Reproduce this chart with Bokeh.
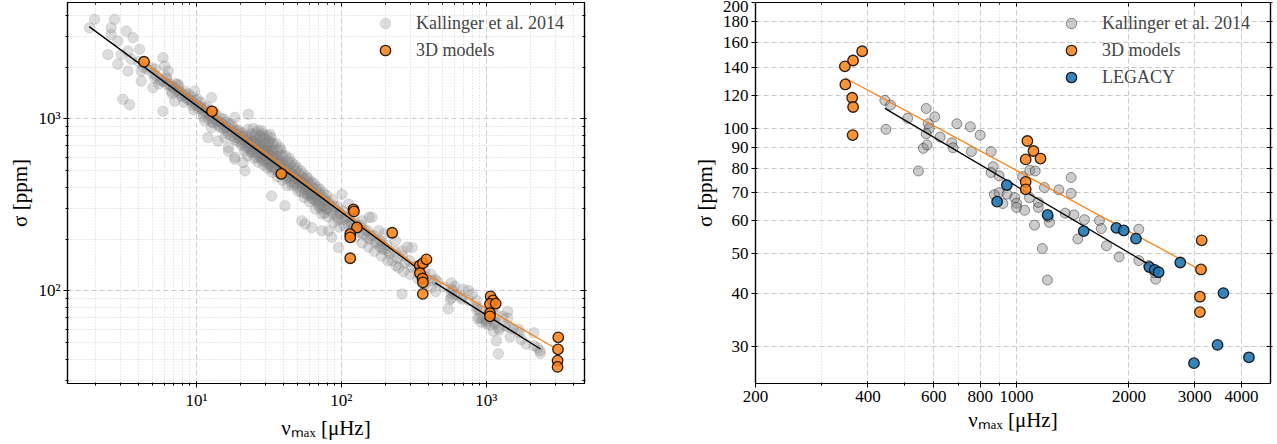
from bokeh.plotting import figure
from bokeh.models import FixedTicker, LogAxis, Legend, LegendItem
from bokeh.layouts import row
from bokeh.embed import file_html
from bokeh.resources import INLINE

FONT = "Liberation Serif"

# ---------------- data ----------------
# Kallinger et al. 2014, red-giant part (nu_max < ~440 muHz)
kall_rg_nu = [
    1.98, 2.72, 1.83, 2.58, 3.28, 3.65, 2.58, 2.87, 2.45, 3.03,
    3.37, 4.05, 3.55, 2.87, 3.37, 4.16, 4.88, 5.88, 6.04, 5.15,
    4.16, 5.01, 5.73, 6.37, 3.11, 3.46, 5.88, 6.71, 7.46, 7.08,
    8.30, 9.23, 9.74, 10.8, 12.7, 11.4, 12.7, 12.0, 14.1, 15.7,
    16.6, 18.4, 19.4, 18.4,
    4.0, 4.3, 4.6, 5.0, 5.3, 5.6, 6.0, 6.3, 6.6, 7.0,
    7.3, 7.7, 8.0, 8.5, 9.0, 9.5, 10.0, 10.5, 11.0, 11.5,
    12.0, 12.5, 13.0, 13.5, 14.0, 14.5, 15.0, 16.0, 17.0, 18.0,
    19.0, 20.0, 5.2, 6.2, 7.5, 8.8, 10.2, 11.8, 13.2, 15.5,
    17.5, 19.5, 5.5, 6.8, 8.2, 9.6, 11.2, 12.8, 14.6, 16.5,
    18.5, 20.5,
    20.8, 21.3, 20.6, 21.5, 22.7, 23.4, 22.9, 23.6, 22.5,
    24.6, 25.3, 24.8, 25.6, 24.4, 25.1, 26.7, 27.4, 26.5, 27.2, 27.7, 26.8,
    28.6, 29.3, 28.8, 29.6, 28.4, 29.1, 30.7, 31.5, 30.5, 31.2, 31.7, 30.8,
    32.6, 33.4, 32.8, 33.7, 32.4, 33.2, 35.5, 36.4, 35.8, 36.8, 35.3, 36.2,
    38.4, 39.5, 38.8, 39.8, 38.2, 39.2, 41.3, 42.6, 41.7, 43.0, 41.5, 42.3,
    45.2, 46.6, 45.6, 47.0, 45.9, 49.3, 50.8, 49.7, 51.2, 50.2,
    54.2, 55.8, 54.6, 56.2, 55.2, 59.0, 60.8, 59.5, 61.2, 60.2,
    65.0, 66.8, 65.5, 67.2, 66.2, 71.0, 73.0, 71.5, 72.6,
    79.0, 81.0, 79.5, 80.8, 86.8, 89.0, 87.4, 88.6, 94.5, 97.2, 95.3, 96.8,
    103, 106.5, 104.5, 113, 116.5, 114.5, 123, 127, 124.5, 137, 142, 139,
    152, 157, 154, 167, 172, 169, 186, 193, 189, 206, 214, 209,
    235, 244, 238, 265, 274, 268, 295, 305, 298, 333, 345, 337,
    373, 386, 377, 414, 425, 418,
    22.1, 21.8, 22.3, 24.0, 23.8, 24.2, 23.9, 26.0, 25.8, 26.2, 25.9, 26.1,
    28.0, 27.8, 28.2, 27.9, 28.1, 30.0, 29.8, 30.2, 29.9, 30.1,
    32.0, 31.8, 32.2, 31.9, 32.1, 34.0, 33.8, 34.3, 34.1, 33.9,
    37.6, 38.0, 37.8, 38.3, 37.5, 43.7, 44.3, 44.0, 43.5,
    47.7, 48.3, 48.0, 47.5, 52.6, 53.3, 52.9, 53.5,
    57.5, 58.4, 57.8, 58.6, 62.5, 63.5, 62.8, 63.7,
    68.4, 69.6, 68.8, 69.9, 75.3, 76.7, 75.8, 76.4,
    16.6, 18.4, 21.0, 21.6, 15.7, 33.0, 40.8, 53.3, 62.5, 73.3,
    85.9, 95.5, 22.8, 28.2, 32.2, 56.2, 73.3, 81.5, 100.8, 112,
    138.6, 162.5, 180.8, 190.6, 212, 235.8, 262.2, 307.5, 248.6, 223.6,
    262, 342, 155, 198, 285,
    6.2, 6.5, 6.9, 7.2, 7.6, 7.9, 8.3, 8.7, 9.2, 9.4,
    9.9, 10.3, 10.7, 11.1, 11.6, 12.2, 12.6, 13.1, 13.6, 14.2,
    14.8, 15.3, 15.8, 16.3, 16.8, 17.3, 17.8, 18.3, 18.8, 19.3,
    19.8, 20.3, 21.1, 21.9, 22.6, 23.2, 24.1, 24.7, 25.4, 26.3,
    27.0, 27.6, 28.3, 29.0, 29.7, 30.4, 31.0, 31.8, 32.5, 33.3,
    34.2, 35.0, 35.9, 36.7, 37.4, 38.6, 39.6, 40.5, 41.5, 42.8,
    44.0, 45.0, 46.2, 47.3, 48.6, 49.8, 51.5, 52.5, 54.0, 55.5,
    57.0, 58.8, 60.5, 62.0, 64.0, 65.8, 68.0, 70.0, 72.0, 74.5,
    77.5, 80.0, 83.0, 86.0, 90.0, 93.0, 98.0, 102, 108, 112,
    118, 122, 130, 135, 145, 150, 160, 175, 185, 200,
]
kall_rg_sig = [
    3790, 3790, 3390, 3390, 3240, 2970, 3100, 2840, 2370, 2370,
    2480, 2540, 2220, 2080, 1900, 1900, 1990, 2270, 2030, 1740,
    1660, 1520, 1660, 1900, 1300, 1210, 1110, 1450, 1590, 1270,
    1390, 1270, 1450, 1160, 1330, 975, 890, 780, 745, 890,
    650, 600, 780, 1020,
    2150, 2000, 1950, 1850, 1780, 1700, 1650, 1580, 1560, 1500,
    1450, 1420, 1380, 1330, 1290, 1240, 1200, 1180, 1130, 1100,
    1070, 1040, 1020, 990, 970, 960, 940, 900, 870, 840,
    810, 790, 1950, 1760, 1560, 1400, 1300, 1180, 1100, 1000,
    930, 860, 1600, 1400, 1250, 1130, 1030, 960, 890, 820,
    760, 720,
    830, 760, 700, 650, 870, 780, 720, 660, 610,
    880, 800, 740, 690, 640, 590, 860, 790, 720, 670, 620, 560,
    820, 760, 700, 650, 600, 540, 800, 730, 680, 620, 570, 520,
    780, 710, 650, 600, 550, 490, 720, 660, 610, 560, 510, 460,
    660, 610, 560, 520, 480, 440, 610, 570, 530, 490, 450, 410,
    560, 520, 480, 450, 410, 520, 480, 450, 420, 380,
    480, 450, 420, 390, 350, 450, 420, 390, 360, 330,
    420, 390, 360, 330, 300, 390, 360, 330, 300,
    360, 330, 300, 270, 340, 310, 280, 250, 310, 285, 260, 235,
    290, 265, 240, 270, 245, 220, 255, 230, 205, 240, 215, 190,
    225, 200, 180, 210, 190, 170, 195, 175, 160, 185, 165, 150,
    170, 155, 140, 160, 145, 130, 150, 138, 125, 140, 128, 118,
    132, 120, 110, 125, 115, 105,
    800, 730, 680, 820, 750, 700, 640, 830, 760, 700, 650, 600,
    800, 740, 690, 630, 580, 770, 710, 660, 610, 560,
    740, 690, 630, 580, 530, 720, 660, 610, 560, 510,
    680, 620, 570, 530, 480, 590, 540, 500, 460,
    540, 500, 460, 430, 500, 460, 430, 400,
    460, 430, 400, 370, 430, 400, 370, 340,
    400, 370, 340, 310, 370, 340, 310, 285,
    682, 583, 558, 499, 779, 357, 313, 256, 234, 224,
    205, 179, 1064, 852, 815, 245, 280, 224, 365, 320,
    256, 268, 224, 187, 171, 196, 171, 179, 137, 150,
    96, 125.5, 268, 215, 180,
    1720, 1600, 1540, 1600, 1460, 1350, 1450, 1300, 1350, 1200,
    1280, 1150, 1250, 1080, 1150, 1000, 1120, 950, 1060, 920,
    1010, 880, 960, 850, 930, 800, 890, 780, 860, 740,
    830, 760, 790, 700, 760, 690, 740, 660, 720, 630,
    700, 600, 660, 580, 630, 590, 650, 550, 610, 530,
    590, 520, 580, 490, 540, 500, 540, 470, 510, 460,
    480, 430, 470, 420, 450, 400, 440, 380, 420, 370,
    410, 360, 380, 350, 370, 340, 350, 320, 345, 310,
    330, 300, 320, 290, 300, 270, 280, 260, 270, 245,
    250, 235, 240, 220, 225, 205, 210, 195, 180, 175,
]
# Kallinger et al. 2014, main-sequence / subgiant part (shown in both panels)
kall_ms_nu = [
    444, 460, 447, 511, 573, 604, 580, 584, 573, 624,
    546, 563, 576, 671, 676, 692, 752, 799, 757, 855,
    866, 855, 898, 872, 898, 919, 943, 989, 1000, 1000,
    1051, 1038, 1085, 1122, 1083, 1144, 1117, 1187, 1225, 1172,
    1210, 1298, 1350, 1400, 1400, 1424, 1459, 1520, 1667, 1687,
    1741, 1882, 2125, 2125, 2258, 2358, 2343, 1216, 1144,
]
kall_ms_sig = [
    116.5, 113.5, 99.3, 105.5, 111.4, 106.4, 102.4, 99.8, 96.9, 95.1,
    78.9, 89.4, 91.1, 92.2, 89.7, 102.4, 100.7, 96.2, 87.8, 87.8,
    80.8, 78.2, 76.8, 69.2, 70.0, 65.9, 69.4, 68.1, 66.0, 64.5,
    63.5, 76.5, 79.2, 78.9, 68.1, 64.5, 58.5, 72.0, 59.4, 51.4,
    43.2, 71.1, 62.5, 76.1, 69.7, 61.9, 54.2, 60.3, 60.0, 57.4,
    52.2, 49.1, 57.2, 48.1, 46.8, 43.4, 45.0, 61.2, 66.3,
]

# 3D models
m3d_nu = [4.35, 12.8, 38.5, 121, 122, 128, 115, 115, 115, 224,
          347, 348, 365, 363, 365, 364, 386,
          1069, 1110, 1058, 1159, 1058, 1058,
          3131, 3118, 3097, 3097]
m3d_sig = [2150, 1107, 480, 298, 290, 234, 214, 205, 155, 218,
           140.6, 127.2, 145.2, 118.2, 112.3, 96.2, 152.8,
           93.1, 88.1, 84.1, 84.5, 74.3, 71.3,
           53.8, 45.8, 39.4, 36.2]

# LEGACY
leg_nu = [887, 942, 1211, 1513, 1851, 1937, 2088, 2268, 2343, 2401, 2744, 3580, 3453, 2986, 4190]
leg_sig = [66.6, 73.0, 61.9, 56.6, 57.6, 56.8, 54.3, 46.4, 45.7, 45.1, 47.6, 40.2, 30.2, 27.3, 28.2]

# power-law fits (end points)
fit_kall_rg_nu = [1.82, 333]
fit_kall_rg_sig = [3440, 136]
fit_kall_ms_nu = [444, 2360]
fit_kall_ms_sig = [111.5, 46.0]
fit_3d_rg_nu = [4.35, 380]
fit_3d_rg_sig = [2150, 128]
fit_3d_ms_nu = [347, 3020]
fit_3d_ms_sig = [132, 46.3]

# ticks
left_x_major = [10, 100, 1000]
left_x_minor = [2, 3, 4, 5, 6, 7, 8, 9, 20, 30, 40, 50, 60, 70, 80, 90,
                200, 300, 400, 500, 600, 700, 800, 900, 2000, 3000, 4000]
left_y_major = [100, 1000]
left_y_minor = [30, 40, 50, 60, 70, 80, 90, 200, 300, 400, 500, 600, 700, 800, 900,
                2000, 3000, 4000]
left_x_labels = {10: "10¹", 100: "10²", 1000: "10³"}
left_y_labels = {100: "10²", 1000: "10³"}

right_x_major = [200, 400, 600, 800, 1000, 2000, 3000, 4000]
right_x_minor = [300, 500, 700, 900]
right_y_major = [30, 40, 50, 60, 70, 80, 90, 100, 120, 140, 160, 180, 200]

ORANGE = "#ff7f0e"
BLUE = "#1f77b4"


def make_fig(width, xr, yr, border_left, border_right):
    p = figure(width=width, height=444, x_axis_type="log", y_axis_type="log",
               x_range=xr, y_range=yr, output_backend="svg", toolbar_location=None,
               min_border_left=border_left, min_border_right=border_right,
               min_border_top=2, min_border_bottom=61)
    p.outline_line_color = "black"
    p.outline_line_width = 1.2
    p.outline_line_alpha = 1
    p.background_fill_color = "white"
    p.border_fill_color = "white"
    return p


def style(p, xmaj, xmin, ymaj, ymin, xlab, ylab, y_minor_grid):
    xt = FixedTicker(ticks=xmaj, minor_ticks=xmin)
    yt = FixedTicker(ticks=ymaj, minor_ticks=ymin)
    p.xaxis.ticker = xt
    p.yaxis.ticker = yt
    p.xgrid.ticker = xt
    p.ygrid.ticker = yt
    p.xaxis.major_label_overrides = xlab
    p.yaxis.major_label_overrides = ylab
    for ax in (p.xaxis[0], p.yaxis[0]):
        ax.major_label_text_font = FONT
        ax.major_label_text_font_size = "17px"
        ax.major_label_text_color = "black"
        ax.axis_label_text_font = FONT
        ax.axis_label_text_font_size = "21px"
        ax.axis_label_text_font_style = "normal"
        ax.axis_label_text_color = "black"
        ax.axis_line_color = "black"
        ax.axis_line_width = 1.2
        ax.major_tick_line_color = "black"
        ax.minor_tick_line_color = "black"
        ax.major_tick_out = 4
        ax.major_tick_in = 2
        ax.minor_tick_out = 2
        ax.minor_tick_in = 1
        ax.major_label_standoff = 3
        ax.axis_label_standoff = 3
    p.xaxis.axis_label = "νₘₐₓ [μHz]"
    p.yaxis.axis_label = "σ [ppm]"
    p.grid.grid_line_color = "#c4c4c4"
    p.grid.grid_line_dash = "5 3"
    p.grid.grid_line_width = 0.9
    p.xgrid.minor_grid_line_color = "#d2d2d2"
    p.xgrid.minor_grid_line_dash = "1 2"
    if y_minor_grid:
        p.ygrid.minor_grid_line_color = "#d2d2d2"
        p.ygrid.minor_grid_line_dash = "1 2"
    for loc, tk, tout in (("right", yt, 2), ("above", xt, 0)):
        ax = LogAxis(ticker=tk, major_label_text_font_size="1px",
                     major_label_text_color=None, major_label_standoff=0,
                     major_tick_in=4, major_tick_out=tout, minor_tick_in=2,
                     minor_tick_out=min(tout, 1),
                     axis_line_color="black", axis_line_width=1.2)
        p.add_layout(ax, loc)


def legend(p, items):
    lg = Legend(items=items, location="top_right", margin=2, padding=6,
                label_width=160, glyph_width=26, glyph_height=26, label_standoff=18,
                spacing=1, border_line_alpha=0, background_fill_alpha=0,
                label_text_font=FONT, label_text_font_size="18px")
    p.add_layout(lg)


# ---------------- left panel ----------------
p1 = make_fig(648, (1.29, 4750), (29.0, 4750), 67, 64)
style(p1, left_x_major, left_x_minor, left_y_major, left_y_minor,
      left_x_labels, left_y_labels, True)
r_k1 = p1.scatter(kall_rg_nu + kall_ms_nu, kall_rg_sig + kall_ms_sig, size=10.5,
                  fill_color="gray", fill_alpha=0.27, line_color="gray", line_alpha=0.22)
p1.line(fit_kall_rg_nu, fit_kall_rg_sig, line_color="black", line_width=1.3)
p1.line(fit_kall_ms_nu, fit_kall_ms_sig, line_color="black", line_width=1.3)
p1.line(fit_3d_rg_nu, fit_3d_rg_sig, line_color=ORANGE, line_width=1.3)
p1.line(fit_3d_ms_nu, fit_3d_ms_sig, line_color=ORANGE, line_width=1.3)
r_m1 = p1.scatter(m3d_nu, m3d_sig, size=10.5, fill_color=ORANGE, fill_alpha=0.85,
                  line_color="black", line_alpha=0.85, line_width=1.3)
legend(p1, [LegendItem(label="Kallinger et al. 2014", renderers=[r_k1]),
            LegendItem(label="3D models", renderers=[r_m1])])

# ---------------- right panel ----------------
p2 = make_fig(629, (200, 4786), (24.4, 200), 107, 7)
style(p2, right_x_major, right_x_minor, right_y_major, [],
      {v: str(v) for v in right_x_major}, {v: str(v) for v in right_y_major}, False)
r_k2 = p2.scatter(kall_ms_nu, kall_ms_sig, size=10, fill_color="gray", fill_alpha=0.4,
                  line_color="black", line_alpha=0.4)
p2.line(fit_kall_ms_nu, fit_kall_ms_sig, line_color="black", line_width=1.3)
p2.line(fit_3d_ms_nu, fit_3d_ms_sig, line_color=ORANGE, line_width=1.3)
r_m2 = p2.scatter(m3d_nu, m3d_sig, size=10.5, fill_color=ORANGE, fill_alpha=0.85,
                  line_color="black", line_alpha=0.85, line_width=1.3)
r_l2 = p2.scatter(leg_nu, leg_sig, size=10.5, fill_color=BLUE, fill_alpha=0.9,
                  line_color="black", line_alpha=0.85, line_width=1.3)
legend(p2, [LegendItem(label="Kallinger et al. 2014", renderers=[r_k2]),
            LegendItem(label="3D models", renderers=[r_m2]),
            LegendItem(label="LEGACY", renderers=[r_l2])])

layout = row(p1, p2)
open("out.html", "w").write(file_html(layout, INLINE))
